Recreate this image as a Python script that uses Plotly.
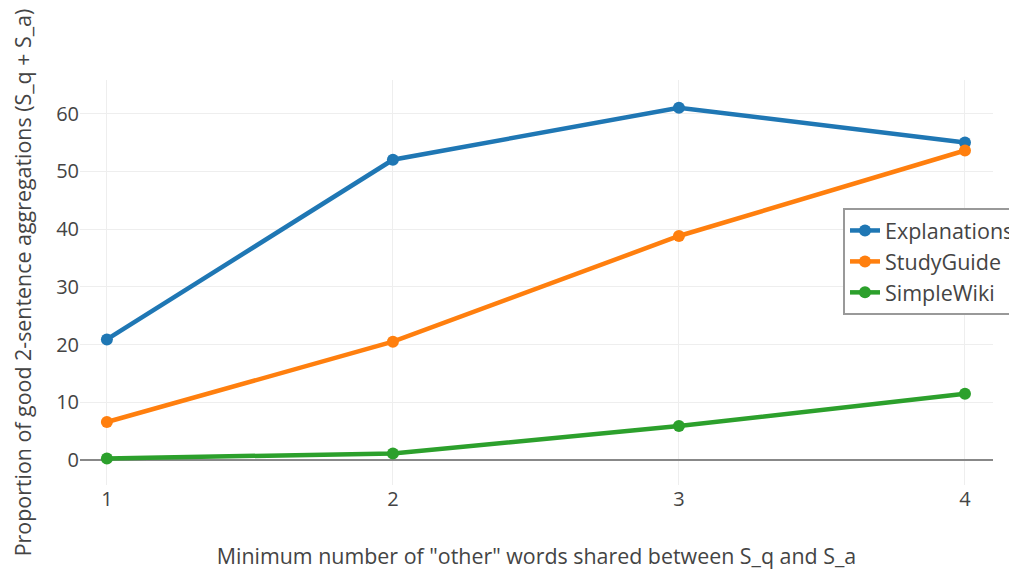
import plotly.graph_objects as go

x_vals = [1, 2, 3, 4]
explanations = [20.9, 52.0, 61.0, 55.0]
study_guide = [6.6, 20.5, 38.8, 53.6]
simple_wiki = [0.3, 1.15, 5.9, 11.5]
series_names = ["Explanations", "StudyGuide", "SimpleWiki"]
series_colors = ["#1f77b4", "#ff7f0e", "#2ca02c"]
y_ticks = [0, 10, 20, 30, 40, 50, 60]
x_title = 'Minimum number of "other" words shared between S_q and S_a'
y_title = "Proportion of good 2-sentence aggregations (S_q + S_a)"

fig = go.Figure()
for name, vals, col in zip(series_names, [explanations, study_guide, simple_wiki], series_colors):
    fig.add_trace(go.Scatter(
        x=x_vals, y=vals, name=name, mode="lines+markers",
        line=dict(color=col, width=4.5), marker=dict(color=col, size=12),
    ))

fig.update_layout(
    width=1017, height=570,
    margin=dict(l=72, r=32, t=72, b=93, autoexpand=False),
    paper_bgcolor="white", plot_bgcolor="white",
    font=dict(family="Open Sans", size=18, color="#444"),
    legend=dict(x=0.8357, y=0.684, xanchor="left", yanchor="top",
                bgcolor="white", bordercolor="#999", borderwidth=2,
                font=dict(size=21.5)),
    xaxis=dict(range=[0.906, 4.098], tickvals=x_vals, ticktext=[str(v) for v in x_vals],
               tickfont=dict(size=20),
               showgrid=True, gridcolor="#eee", zeroline=False, showline=False,
               ticks="", title=dict(text=x_title, standoff=38, font=dict(size=21.4))),
    yaxis=dict(range=[-4.3, 65.8], tickvals=y_ticks,
               tickfont=dict(size=20),
               showgrid=True, gridcolor="#eee", zeroline=True, zerolinecolor="#888",
               zerolinewidth=2, showline=False, ticks="",
               title=dict(text=y_title, standoff=24, font=dict(size=21.4))),
    showlegend=True,
)

fig.write_html("out.html")
